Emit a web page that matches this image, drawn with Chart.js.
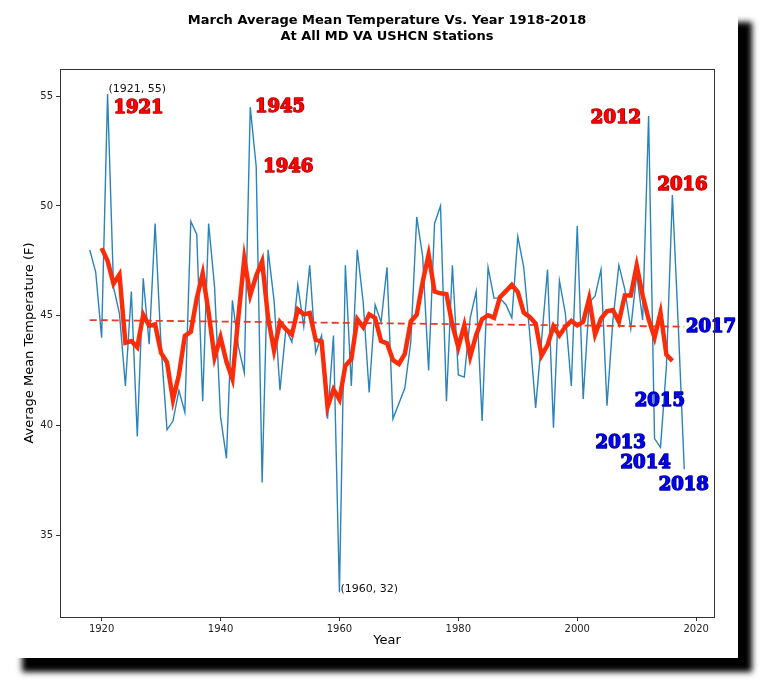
<!DOCTYPE html>
<html><head><meta charset="utf-8">
<script src="https://cdn.jsdelivr.net/npm/chart.js@4/dist/chart.umd.min.js"></script>
<style>
html,body{margin:0;padding:0;background:#fff;width:768px;height:688px;overflow:hidden}
#card{position:absolute;left:8px;top:8px;width:730px;height:650px;background:#fff;box-shadow:14px 14px 6px #000}
#wrap{position:absolute;left:0;top:0;width:768px;height:688px}
</style></head><body>
<div id="card"></div>
<div id="wrap"><canvas id="c" width="768" height="688"></canvas></div>
<script>
const years = [];
for (let y = 1918; y <= 2018; y++) years.push(y);
const temps = [
48.0,47.0,44.0,55.1,46.3,45.1,41.8,46.1,39.5,46.7,
43.7,49.2,43.6,39.8,40.2,41.6,40.6,49.3,48.7,41.1,
49.2,46.3,40.4,38.5,45.7,43.6,42.4,54.5,51.8,37.4,
48.0,45.7,41.6,44.4,43.8,46.4,44.5,47.3,43.3,44.1,
40.3,44.1,32.4,47.3,41.8,48.0,45.6,41.5,45.5,44.7,
47.2,40.3,41.0,41.7,43.8,49.5,47.7,42.5,49.2,50.0,
41.1,47.3,42.3,42.2,44.9,46.1,40.2,47.2,45.8,45.8,
45.5,44.9,48.6,47.2,44.2,40.8,43.9,47.1,39.9,46.6,
45.1,41.8,49.1,41.2,45.6,45.9,47.1,40.9,44.8,47.3,
46.2,44.4,46.9,44.8,54.1,39.4,39.0,42.7,50.5,44.5,38.0];
// 5-year centred running mean of the plotted values
const smoothYears = years.slice(2, -2);
const smooth = smoothYears.map((y, i) => temps.slice(i, i + 5).reduce((a, b) => a + b, 0) / 5);
const trendYears = [1918, 2018];
const trendVals = [44.8, 44.5];

const redLabels = [["1921",1926.2,54.45],["1945",1950.0,54.5],["1946",1951.4,51.75],["2012",2006.5,54.0],["2016",2017.7,50.95]];
const blueLabels = [["2017",2022.5,44.45],["2015",2013.9,41.1],["2013",2007.3,39.2],["2014",2011.5,38.25],["2018",2017.9,37.25]];
const pointNotes = [["(1921, 55)",1921,55.3],["(1960, 32)",1960,32.55]];

const xy = (xs, ys) => xs.map((x, i) => ({x, y: ys[i]}));

const deco = {
  id:'deco',
  afterDraw(ch){
    const c = ch.ctx, xs = ch.scales.x, ys = ch.scales.y;
    c.save();
    c.fillStyle = '#000'; c.textAlign = 'center'; c.textBaseline = 'middle';
    c.font = 'bold 13px "DejaVu Sans"';
    c.fillText('March Average Mean Temperature Vs. Year 1918-2018', 387, 21);
    c.fillText('At All MD VA USHCN Stations', 387, 37);
    c.font = '13px "DejaVu Sans"';
    c.fillText('Year', 387, 641);
    c.translate(30, 343); c.rotate(-Math.PI/2);
    c.fillText('Average Mean Temperature (F)', 0, 0);
    c.restore();
    c.save();
    c.textBaseline = 'middle'; c.textAlign = 'left';
    c.font = '11px "DejaVu Sans"'; c.fillStyle = '#111';
    pointNotes.forEach(([t,x,y]) => c.fillText(t, xs.getPixelForValue(x) + 1, ys.getPixelForValue(y)));
    c.textAlign = 'center';
    c.font = 'bold 18px "DejaVu Serif"'; c.lineWidth = 1.5; c.lineJoin = 'round';
    const draw = (arr, fill, stroke) => arr.forEach(([t,x,y]) => {
      const px = xs.getPixelForValue(x), py = ys.getPixelForValue(y);
      c.strokeStyle = stroke; c.strokeText(t, px, py);
      c.fillStyle = fill; c.fillText(t, px, py);
    });
    draw(redLabels, '#f00', '#a00');
    draw(blueLabels, '#0000ee', '#000090');
    c.restore();
  }
};

new Chart(document.getElementById('c'), {
  type: 'line',
  data: { datasets: [
    { data: xy(smoothYears, smooth), borderColor: '#fa2d0a', borderWidth: 4.5, pointRadius: 0, tension: 0, order: 0 },
    { data: xy(trendYears, trendVals), borderColor: '#e8392b', borderWidth: 1.8, borderDash: [7,4], pointRadius: 0, order: 1 },
    { data: xy(years, temps), borderColor: '#2b83ba', borderWidth: 1.4, pointRadius: 0, tension: 0, order: 2 }
  ]},
  options: {
    responsive: false, animation: false,
    layout: { padding: { top: 69, right: 54, left: 0, bottom: 0 } },
    plugins: { legend: { display: false }, tooltip: { enabled: false } },
    scales: {
      x: { type: 'linear', min: 1913, max: 2023,
        afterFit(s){ s.height = 71; },
        afterBuildTicks(s){ s.ticks = [1920,1940,1960,1980,2000,2020].map(v => ({value: v})); },
        ticks: { color: '#222', font: { family: 'DejaVu Sans', size: 10 }, padding: 2, maxRotation: 0, callback: v => String(v) },
        grid: { drawOnChartArea: false, drawTicks: true, tickLength: 4, color: '#333' },
        border: { color: '#333' } },
      y: { min: 31.27, max: 56.24,
        afterFit(s){ s.width = 60; },
        afterBuildTicks(s){ s.ticks = [35,40,45,50,55].map(v => ({value: v})); },
        ticks: { color: '#222', font: { family: 'DejaVu Sans', size: 10 }, padding: 3 },
        grid: { drawOnChartArea: false, drawTicks: true, tickLength: 4, color: '#333' },
        border: { color: '#333' } }
    }
  },
  plugins: [deco, { id:'frame', afterDraw(ch){ const a = ch.chartArea, c = ch.ctx; c.save(); c.strokeStyle='#333'; c.lineWidth=1; c.strokeRect(a.left+0.5, a.top+0.5, a.right-a.left, a.bottom-a.top); c.restore(); } }]
});
</script></body></html>
